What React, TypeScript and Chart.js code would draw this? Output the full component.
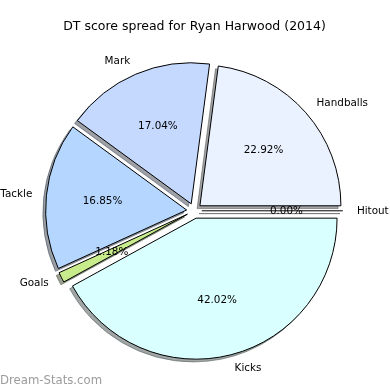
import React, { useEffect, useRef } from "react";
import { Chart, registerables } from "chart.js";

Chart.register(...registerables);

// ---- data (matplotlib order: counter-clockwise from east) ----
const categories = ["Handballs", "Mark", "Tackle", "Goals", "Kicks", "Hitout"];
const shares = [22.92, 17.04, 16.85, 1.18, 42.02, 0.0];
const sliceColors = ["#ebf2ff", "#c5d9ff", "#b4d6ff", "#c8eb8c", "#daffff", "#f0f0f0"];
const titleText = "DT score spread for Ryan Harwood (2014)";
const watermarkText = "Dream-Stats.com";

// ---- styling ----
const RADIUS = 141;
const EXPLODE = 7.6;
const SHADOW_DX = -2.8;
const SHADOW_DY = 2.8;
const FONT = '"DejaVu Sans", sans-serif';

function hexToRgb(h: string): [number, number, number] {
  const n = parseInt(h.slice(1), 16);
  return [(n >> 16) & 255, (n >> 8) & 255, n & 255];
}

export default function App() {
  const ref = useRef<HTMLCanvasElement | null>(null);

  useEffect(() => {
    if (!ref.current) return;
    // Chart.js draws clockwise, matplotlib counter-clockwise: reverse the order
    const labels = [...categories].reverse();
    const values = [...shares].reverse();
    const colors = [...sliceColors].reverse();

    const piePlugin = {
      id: "mplPie",
      beforeDatasetDraw(chart: any, args: any) {
        const meta = chart.getDatasetMeta(args.index);
        const ctx: CanvasRenderingContext2D = chart.ctx;
        const arcs = meta.data;
        // shadows
        arcs.forEach((arc: any, i: number) => {
          const { x, y, startAngle, endAngle, outerRadius } = arc.getProps(
            ["x", "y", "startAngle", "endAngle", "outerRadius"],
            true
          );
          const mid = (startAngle + endAngle) / 2;
          const [r, g, b] = hexToRgb(colors[i]);
          const sc = `rgba(${Math.round(r * 0.3)},${Math.round(g * 0.3)},${Math.round(b * 0.3)},0.5)`;
          ctx.save();
          ctx.translate(EXPLODE * Math.cos(mid) + SHADOW_DX, EXPLODE * Math.sin(mid) + SHADOW_DY);
          ctx.beginPath();
          ctx.moveTo(x, y);
          ctx.arc(x, y, outerRadius, startAngle, endAngle);
          ctx.closePath();
          ctx.fillStyle = sc;
          ctx.strokeStyle = sc;
          ctx.lineWidth = 1;
          if (endAngle - startAngle > 0) ctx.fill();
          ctx.stroke();
          ctx.restore();
        });
        // slices
        arcs.forEach((arc: any, i: number) => {
          const { x, y, startAngle, endAngle, outerRadius } = arc.getProps(
            ["x", "y", "startAngle", "endAngle", "outerRadius"],
            true
          );
          const mid = (startAngle + endAngle) / 2;
          ctx.save();
          ctx.translate(EXPLODE * Math.cos(mid), EXPLODE * Math.sin(mid));
          if (endAngle - startAngle > 0) {
            arc.draw(ctx, chart.chartArea);
          } else {
            ctx.beginPath();
            ctx.moveTo(x, y);
            ctx.lineTo(x + outerRadius * Math.cos(startAngle), y + outerRadius * Math.sin(startAngle));
            ctx.strokeStyle = "#000";
            ctx.lineWidth = 1;
            ctx.stroke();
          }
          ctx.restore();
        });
        return false;
      },
      afterDatasetsDraw(chart: any) {
        const meta = chart.getDatasetMeta(0);
        const ctx: CanvasRenderingContext2D = chart.ctx;
        const total = values.reduce((a, b) => a + b, 0);
        ctx.save();
        ctx.fillStyle = "#000";
        ctx.font = `10.4px ${FONT}`;
        ctx.textBaseline = "middle";
        meta.data.forEach((arc: any, i: number) => {
          const { x, y, startAngle, endAngle, outerRadius } = arc.getProps(
            ["x", "y", "startAngle", "endAngle", "outerRadius"],
            true
          );
          const mid = (startAngle + endAngle) / 2;
          const cx = x + EXPLODE * Math.cos(mid);
          const cy = y + EXPLODE * Math.sin(mid);
          // category label
          const lx = cx + 1.1 * outerRadius * Math.cos(mid);
          const ly = cy + 1.1 * outerRadius * Math.sin(mid);
          ctx.textAlign = lx - x > 0 ? "left" : "right";
          ctx.fillText(labels[i], lx, ly);
          // percentage
          const px = cx + 0.6 * outerRadius * Math.cos(mid);
          const py = cy + 0.6 * outerRadius * Math.sin(mid);
          ctx.textAlign = "center";
          ctx.fillText(((values[i] / total) * 100).toFixed(2) + "%", px, py);
        });
        // title
        ctx.font = `12.5px ${FONT}`;
        ctx.textAlign = "center";
        ctx.textBaseline = "alphabetic";
        ctx.fillText(titleText, 194.5, 30);
        // watermark
        ctx.font = `13px "DejaVu Sans Condensed", "DejaVu Sans", sans-serif`;
        ctx.fillStyle = "#9c9c9c";
        ctx.textAlign = "left";
        ctx.fillText(watermarkText, 0, 384);
        ctx.restore();
      },
    };

    const chart = new Chart(ref.current, {
      type: "pie",
      data: {
        labels,
        datasets: [
          {
            data: values,
            backgroundColor: colors,
            borderColor: "#000",
            borderWidth: 1,
            offset: 0,
            hoverOffset: 0,
          },
        ],
      },
      options: {
        responsive: false,
        animation: false,
        devicePixelRatio: 1,
        events: [],
        rotation: 90,
        radius: RADIUS,
        layout: { padding: { top: 31.6, left: 0, right: 1.6, bottom: 0 } },
        plugins: {
          legend: { display: false },
          title: { display: false },
          tooltip: { enabled: false },
        },
      },
      plugins: [piePlugin],
    } as any);
    return () => chart.destroy();
  }, []);

  return (
    <div style={{ position: "absolute", left: 0, top: 0, width: 390, height: 390, background: "#fff" }}>
      <canvas ref={ref} width={390} height={390} style={{ width: 390, height: 390 }} />
    </div>
  );
}
